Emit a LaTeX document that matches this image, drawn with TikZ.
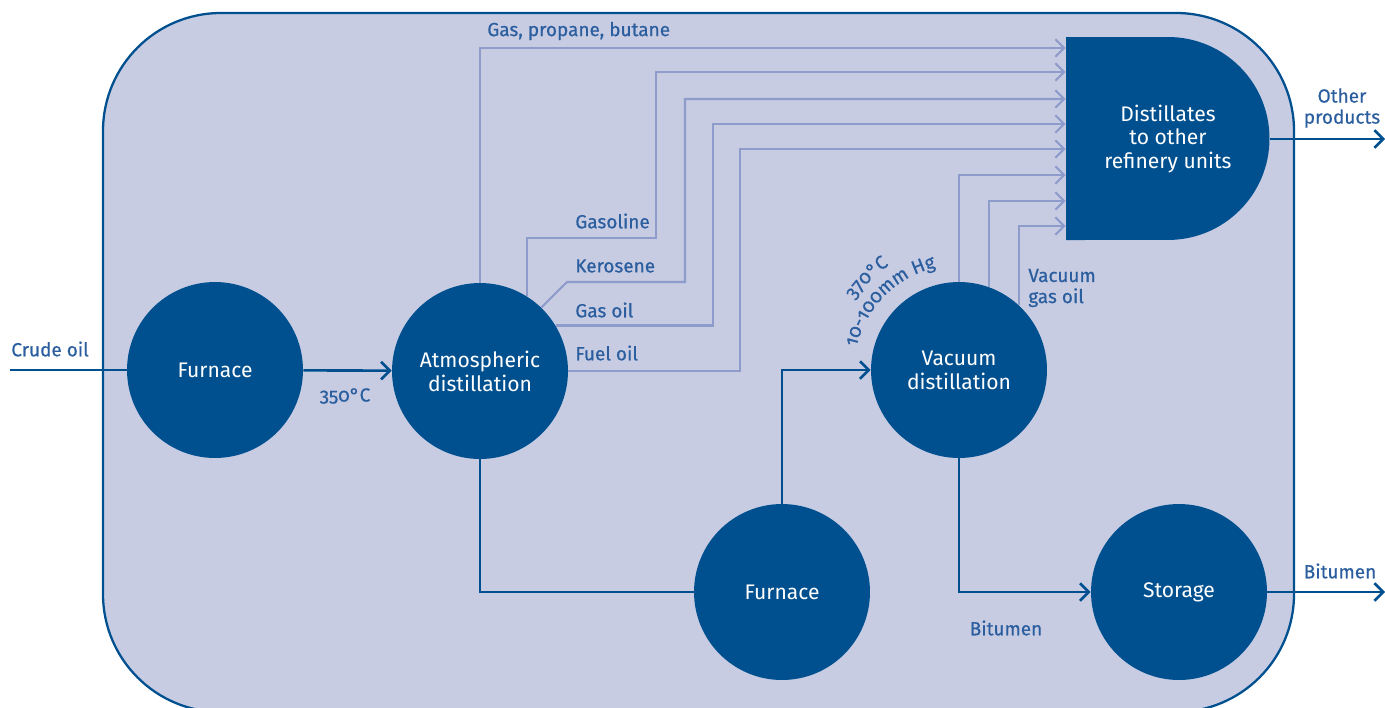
\documentclass[tikz,border=0pt]{standalone}
\usepackage{fontspec}
\setmainfont{Fira Sans}
\newfontfamily\labelfont[Numbers=OldStyle, FakeBold=0.6]{Fira Sans}
\usepackage{tikz}
\usetikzlibrary{arrows.meta,decorations.text}

\definecolor{darkblue}{HTML}{00508F}
\definecolor{backblue}{HTML}{C8CCE3}
\definecolor{feedblue}{HTML}{8E9CCB}
\definecolor{textblue}{HTML}{2B5E9E}

\tikzset{
    unit/.style={circle, fill=darkblue, text=white, minimum size=3.52cm, inner sep=0pt,
        align=center, font=\fontsize{12}{13.6}\selectfont},
    flow/.style={draw=darkblue, line width=1.5pt, -{Straight Barb[length=5pt,width=10pt]}},
    feed/.style={draw=feedblue, line width=1.2pt, -{Straight Barb[length=5pt,width=10pt]}},
    lbl/.style={text=textblue, font=\labelfont\fontsize{10.8}{12}\selectfont, inner sep=0pt, align=left},
    arclbl/.style={decorate, decoration={text along path, text align=center, text color=textblue,
        text={|\labelfont\fontsize{10.8}{12}\selectfont|#1}}}
}

\begin{document}
\begin{tikzpicture}[x=0.02cm, y=-0.02cm]
        \useasboundingbox (0,0) rectangle (1385,707);
        \draw[darkblue, fill=backblue, line width=1.3pt, rounded corners=2.36cm] (103,13) rectangle (1294,712);
        % distillates box
        \fill[darkblue] (1066,37) -- (1168,37) arc[start angle=90, end angle=-90, radius=2.03cm] -- (1066,240) -- cycle;
        \node[minimum width=4.08cm, minimum height=4.06cm, inner sep=0pt, text=white, align=center,
            font=\fontsize{12}{13.6}\selectfont] (dist) at (1168,139) {Distillates\\to other\\refinery units};
        \node[unit] (furn1) at (215,370) {Furnace};
        \node[unit] (atm) at (480,371) {Atmospheric\\distillation};
        \node[unit] (furn2) at (782,592) {Furnace};
        \node[unit] (vac) at (959,370) {Vacuum\\distillation};
        \node[unit] (store) at (1179,592) {Storage};
        \coordinate (crude) at (10,370);
        \coordinate (other) at (1385,139);
        \coordinate (bitout) at (1385,592);
        % fractions
        \draw[feed] (atm.90) |- (dist.west |- 0,48);
        \draw[feed] (atm.58) |- (656,238) |- (dist.west |- 0,72);
        \draw[feed] (atm.46) -- (567,282) -- (685,282) |- (dist.west |- 0,99);
        \draw[feed] (atm.31.5) -| (713,124) -- (dist.west |- 0,124);
        \draw[feed] (atm.east) -| (740,149) -- (dist.west |- 0,149);
        \draw[feed] (vac.north) |- (dist.west |- 0,175);
        \draw[feed] (vac.70) |- (dist.west |- 0,201);
        \draw[feed] (vac.47) |- (dist.west |- 0,226);
        % main flow
        \draw[flow, -] (crude) -- (furn1);
        \draw[flow] (furn1) -- (atm);
        \draw[flow, -] (atm.south) |- (furn2.west);
        \draw[flow] (furn2.north) |- (vac.west);
        \draw[flow] (vac.south) |- (store.west);
        \draw[flow] (store.east) -- (bitout);
        \draw[flow] (dist.east) -- (other);
        % labels
        \node[lbl, anchor=west] (lcrude) at (11,349) {Crude oil};
        \node[lbl] (l350) at (345,396) {350°C};
        \node[lbl, anchor=west] (lgas) at (487,31) {Gas, propane, butane};
        \node[lbl, anchor=west] (lgasoline) at (575,221) {Gasoline};
        \node[lbl, anchor=west] (lkero) at (575,266) {Kerosene};
        \node[lbl, anchor=west] (lgasoil) at (575,310) {Gas oil};
        \node[lbl, anchor=west] (lfuel) at (575,353) {Fuel oil};
        \path[arclbl=370°C] (vac.center) ++(175:2.52cm) arc[start angle=175, end angle=95, radius=2.52cm];
        \path[arclbl=10-100mm Hg] (vac.center) ++(178:2.1cm) arc[start angle=178, end angle=92, radius=2.1cm];
        \node[lbl, anchor=west] (lvgo) at (1028,288) {Vacuum\\gas oil};
        \node[lbl, align=center] (lother) at (1342,108) {Other\\products};
        \node[lbl] (lbit) at (1340,571) {Bitumen};
        \node[lbl] (lbit2) at (1006,628) {Bitumen};
    \end{tikzpicture}
\end{document}
